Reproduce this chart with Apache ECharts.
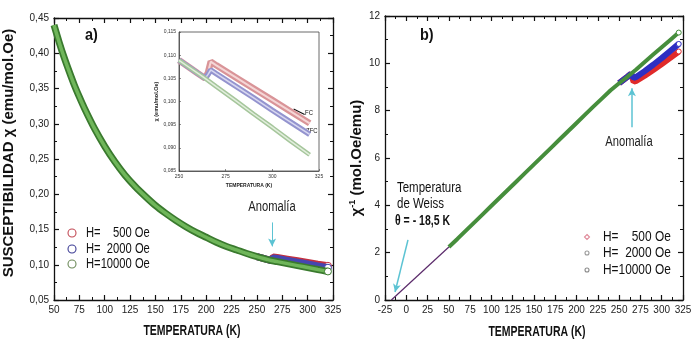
<!DOCTYPE html>
<html><head><meta charset="utf-8">
<script src="https://cdn.jsdelivr.net/npm/echarts@6/dist/echarts.min.js"></script>
<style>html,body{margin:0;padding:0;background:#fff}#c{width:699px;height:349px}</style>
</head><body><div id="c"></div>
<script>
// ---- Data ----
const names = ['H=    500 Oe', 'H=  2000 Oe', 'H=10000 Oe'];

// Panel a) susceptibility chi vs T
const leftT = [50,55,60,65,70,75,80,90,100,110,120,130,140,150,160,170,180,190,200,210,220,230,240,250,260,264,270,280,290,300,310,320];
const leftGreen = [0.440,0.416,0.394,0.374,0.355,0.338,0.322,0.293,0.268,0.246,0.227,0.211,0.197,0.184,0.173,0.163,0.154,0.146,0.139,0.132,0.126,0.121,0.116,0.1115,0.1075,0.1060,0.1044,0.1016,0.0988,0.0960,0.0932,0.0905];
const leftHiT = [250,260,264,266,270,280,290,300,310,320];
const leftRed = [0.1115,0.1075,0.1060,0.1110,0.1104,0.1080,0.1056,0.1032,0.1008,0.0985];
const leftBlue = [0.1115,0.1075,0.1060,0.1095,0.1088,0.1062,0.1036,0.1010,0.0984,0.0958];

// Inset: zoom 250-325 K
const insetT = [250,255,260,264,270,280,290,300,310,320];
const insetGreen = [0.1089,0.1075,0.1061,0.1050,0.1032,0.1003,0.0973,0.0944,0.0914,0.0885];
const insetJT = [250,255,260,264,265.5,267,270,280,290,300,310,320];
const insetRed = [0.1089,0.1075,0.1061,0.1050,0.1062,0.1086,0.1078,0.1053,0.1028,0.1003,0.0978,0.0953];
const insetBlue = [0.1089,0.1075,0.1061,0.1050,0.1058,0.1068,0.1060,0.1034,0.1008,0.0981,0.0955,0.0929];

// Panel b) inverse susceptibility vs T
const rightT = [50,60,70,80,90,100,110,120,130,140,150,160,170,180,190,200,210,220,230,240,250,260,264,270,280,290,300,310,320];
const rightGreen = [2.24,2.58,2.93,3.28,3.63,3.98,4.33,4.68,5.03,5.38,5.73,6.08,6.43,6.78,7.13,7.48,7.83,8.18,8.52,8.86,9.16,9.44,9.56,9.74,10.06,10.37,10.68,10.99,11.30];
const rightHiT = [250,260,264,266,267,270,280,290,300,310,320];
const rightRed = [9.16,9.44,9.56,9.64,9.22,9.26,9.48,9.72,9.97,10.23,10.50];
const rightBlue = [9.16,9.44,9.56,9.64,9.38,9.42,9.67,9.94,10.22,10.52,10.82];
const fitT = [-17.5, 50];
const fitY = [0, 2.24];

// tick values
const leftXTicks = {min:50, max:325, interval:25};
const leftYTicks = {min:0.05, max:0.45, interval:0.05};
const rightXTicks = {min:-25, max:325, interval:25};
const rightYTicks = {min:0, max:12, interval:2};
const insetXTicks = {min:250, max:325, interval:25};
const insetYTicks = {min:0.085, max:0.115, interval:0.005};

// ---- Chart ----
const zip = (a, b) => a.map((v, i) => [v, b[i]]);
const SANS = '"Liberation Sans",Arial,sans-serif';
const comma = d => v => v.toFixed(d).replace('.', ',');

function xAx(grid, t, pos, labels, fs, fmt, extra) {
  return Object.assign({
    type:'value', gridIndex:grid, position:pos, min:t.min, max:t.max, interval:t.interval,
    axisLine:{show:true, onZero:false, lineStyle:{color:'#111', width:1.3}},
    axisTick:{show:true, inside:true, length:5, lineStyle:{color:'#111', width:1.2}},
    minorTick:{show:true, splitNumber:2, length:3, lineStyle:{color:'#111', width:1}},
    splitLine:{show:false},
    axisLabel:{show:labels, fontSize:fs, color:'#222', fontFamily:SANS, margin:5, formatter:fmt}
  }, extra||{});
}

const chart = echarts.init(document.getElementById('c'), null, {renderer:'canvas'});
const endMark = (n, size, border) => ({
  symbol:(v, p) => p.dataIndex === n - 1 ? 'circle' : 'none',
  symbolSize:size, showSymbol:true,
  itemStyle:{color:'#fff', borderColor:border, borderWidth:1}
});
const lineS = (name, xi, yi, data, color, width, z, extra) => Object.assign({
  type:'line', name, xAxisIndex:xi, yAxisIndex:yi, data, symbol:'none', showSymbol:false,
  lineStyle:{color, width}, itemStyle:{color}, z, silent:true, animation:false
}, extra||{});

const arrowColor = '#5cc3d3';
const txt = (x, y, text, size, opt) => Object.assign({
  type:'text', x, y, scaleX:(opt && opt.sx) || 0.8, silent:true,
  style:{text, font:((opt && opt.bold) ? 'bold ' : '') + size + 'px ' + SANS, fill:(opt && opt.fill) || '#111',
    align:(opt && opt.align) || 'left', verticalAlign:'middle'}
});
const legendMark = (x, y, shape, r, color) => ({
  type: shape === 'diamond' ? 'polygon' : 'circle', silent:true,
  shape: shape === 'diamond' ? {points:[[x, y - r], [x + r, y], [x, y + r], [x - r, y]]} : {cx:x, cy:y, r},
  style:{fill:'#fff', stroke:color, lineWidth:1.1}
});

chart.setOption({
  animation:false,
  backgroundColor:'#fff',
  grid:[
    {left:53, top:18, width:280, height:282},
    {left:385, top:16, width:298, height:284},
    {left:179, top:32, width:140, height:139, show:true, backgroundColor:'#fff', borderColor:'#444', borderWidth:0.8}
  ],
  xAxis:[
    xAx(0, leftXTicks, 'bottom', true, 10, v=>String(v)),
    xAx(0, leftXTicks, 'top', false, 10),
    xAx(1, rightXTicks, 'bottom', true, 10, v=>String(v)),
    xAx(1, rightXTicks, 'top', false, 10),
    xAx(2, insetXTicks, 'bottom', true, 5.5, v=>String(v), {
      axisLine:{show:true, onZero:false, lineStyle:{color:'#444', width:0.8}},
      axisTick:{show:true, inside:true, length:2, lineStyle:{color:'#444', width:0.6}},
      minorTick:{show:false}, axisLabel:{fontSize:5, color:'#333', fontFamily:SANS, margin:3},
      name:'TEMPERATURA (K)', nameLocation:'middle', nameGap:12, nameTextStyle:{fontSize:5, fontWeight:'bold', fontFamily:SANS, color:'#222'}})
  ],
  yAxis:[
    xAx(0, leftYTicks, 'left', true, 10, comma(2), {name:'SUSCEPTIBILIDAD \u03c7 (emu/mol.Oe)', nameLocation:'middle', nameGap:38,
      nameTextStyle:{fontSize:15, fontWeight:'bold', fontFamily:SANS, color:'#111', padding:[0,0,0,12]}}),
    xAx(0, leftYTicks, 'right', false, 10),
    xAx(1, rightYTicks, 'left', true, 10, v=>String(v), {name:'{b|\u03c7}{s|-1}{b| (mol.Oe/emu)}', nameLocation:'middle', nameGap:19,
      nameTextStyle:{rich:{b:{fontSize:15, fontWeight:'bold', fontFamily:SANS, color:'#111', lineHeight:18}, s:{fontSize:9, fontWeight:'bold', fontFamily:SANS, color:'#111', verticalAlign:'top', lineHeight:18}}}}),
    xAx(1, rightYTicks, 'right', false, 10),
    xAx(2, insetYTicks, 'left', true, 5, comma(3), {
      axisLine:{show:true, onZero:false, lineStyle:{color:'#444', width:0.8}},
      axisTick:{show:true, inside:true, length:2, lineStyle:{color:'#444', width:0.6}},
      minorTick:{show:false}, axisLabel:{fontSize:5, color:'#333', fontFamily:SANS, margin:3, formatter:comma(3)},
      name:'\u03c7 (emu/mol.Oe)', nameLocation:'middle', nameGap:17, nameTextStyle:{fontSize:5.5, fontWeight:'bold', fontFamily:SANS, color:'#222'}})
  ],
  graphic:[
    txt(85, 35, 'a)', 17, {bold:true, sx:0.85}),
    txt(420, 35, 'b)', 17, {bold:true, sx:0.85}),
    txt(192, 331, 'TEMPERATURA (K)', 14, {bold:true, sx:0.75, align:'center'}),
    txt(537, 332, 'TEMPERATURA (K)', 14, {bold:true, sx:0.75, align:'center'}),
    txt(272, 207, 'Anomal\u00eda', 14, {fill:'#222', align:'center', sx:0.8}),
    txt(629, 142, 'Anomal\u00eda', 14, {fill:'#222', align:'center', sx:0.8}),
    txt(397, 188, 'Temperatura', 14, {sx:0.82}),
    txt(397, 204, 'de Weiss', 14, {sx:0.82}),
    txt(395, 221, '\u03b8 = - 18,5 K', 14, {bold:true, sx:0.75}),
    txt(305, 113, 'FC', 7, {sx:0.85}),
    txt(306, 131, 'ZFC', 7, {sx:0.85}),
    // legend, panel a
    legendMark(72, 233, 'circle', 4, '#c24a55'),
    legendMark(72, 249, 'circle', 4, '#3d3d95'),
    legendMark(72, 264, 'circle', 4, '#6d8a5a'),
    txt(86, 233, names[0], 14, {sx:0.8}),
    txt(86, 249, names[1], 14, {sx:0.8}),
    txt(86, 264, names[2], 14, {sx:0.8}),
    // legend, panel b
    legendMark(587, 237, 'diamond', 2.5, '#e08a9a'),
    legendMark(587, 253, 'circle', 2, '#9a9a9a'),
    legendMark(587, 270, 'circle', 2, '#8a8a8a'),
    txt(603, 237, names[0], 14.5, {sx:0.82}),
    txt(603, 253, names[1], 14.5, {sx:0.82}),
    txt(603, 270, names[2], 14.5, {sx:0.82})
  ],
  series:[
    // panel a
    lineS(names[0], 0, 0, zip(leftHiT, leftRed), '#c4303f', 7, 2, endMark(leftHiT.length, 7, '#c4303f')),
    lineS(names[1], 0, 0, zip(leftHiT, leftBlue), '#4646b0', 7, 3, endMark(leftHiT.length, 7, '#4040aa')),
    lineS(names[2], 0, 0, zip(leftT, leftGreen), '#3a7a2e', 7, 4, {smooth:0.3}),
    lineS(names[2], 0, 0, zip(leftT, leftGreen), '#6fb65a', 3.5, 5, Object.assign({smooth:0.3,
      markLine:{silent:true, symbol:['none','arrow'], symbolSize:[6,8], label:{show:false},
        lineStyle:{color:arrowColor, width:1, type:'solid'},
        data:[[{coord:[265,0.160]},{coord:[265,0.126]}]]}}, endMark(leftT.length, 7, '#3a7a2e'))),
    // inset
    lineS(names[0], 4, 4, zip(insetJT, insetRed), '#d99498', 6.5, 10),
    lineS(names[0], 4, 4, zip(insetJT, insetRed), '#f5d6d6', 2, 11),
    lineS(names[1], 4, 4, zip(insetJT, insetBlue), '#9494cf', 5.5, 12),
    lineS(names[1], 4, 4, zip(insetJT, insetBlue), '#d8d8f0', 1.5, 13),
    lineS(names[2], 4, 4, zip(insetT, insetGreen), '#a6c69c', 4.5, 14),
    lineS(names[2], 4, 4, zip(insetT, insetGreen), '#e2eedd', 1.5, 15, {
      markLine:{silent:true, symbol:['none','none'], label:{show:false},
        lineStyle:{color:'#111', width:1.2, type:'solid'},
        data:[[{coord:[311.4,0.0984]},{coord:[317.3,0.0972]}],[{coord:[309.2,0.0961]},{coord:[316,0.0943]}]]}}),
    // panel b
    lineS('fit', 2, 2, zip(fitT, fitY), '#5a2a6a', 1.2, 2, {
      markLine:{silent:true, symbol:['none','arrow'], symbolSize:[6,8], label:{show:false},
        lineStyle:{color:arrowColor, width:1.5, type:'solid'},
        data:[[{coord:[265,7.3]},{coord:[265,8.95]}],[{coord:[2,2.54]},{coord:[-13.2,0.34]}]]}}),
    lineS(names[0], 2, 2, zip(rightHiT, rightRed), '#e02a2a', 6, 3, endMark(rightHiT.length, 5, '#e02a2a')),
    lineS(names[1], 2, 2, zip(rightHiT, rightBlue), '#2e2ec2', 6, 4, endMark(rightHiT.length, 5, '#2e2ec2')),
    lineS(names[2], 2, 2, zip(rightT, rightGreen), '#468e3c', 4, 5, endMark(rightT.length, 5, '#468e3c'))
  ]
});
</script></body></html>
